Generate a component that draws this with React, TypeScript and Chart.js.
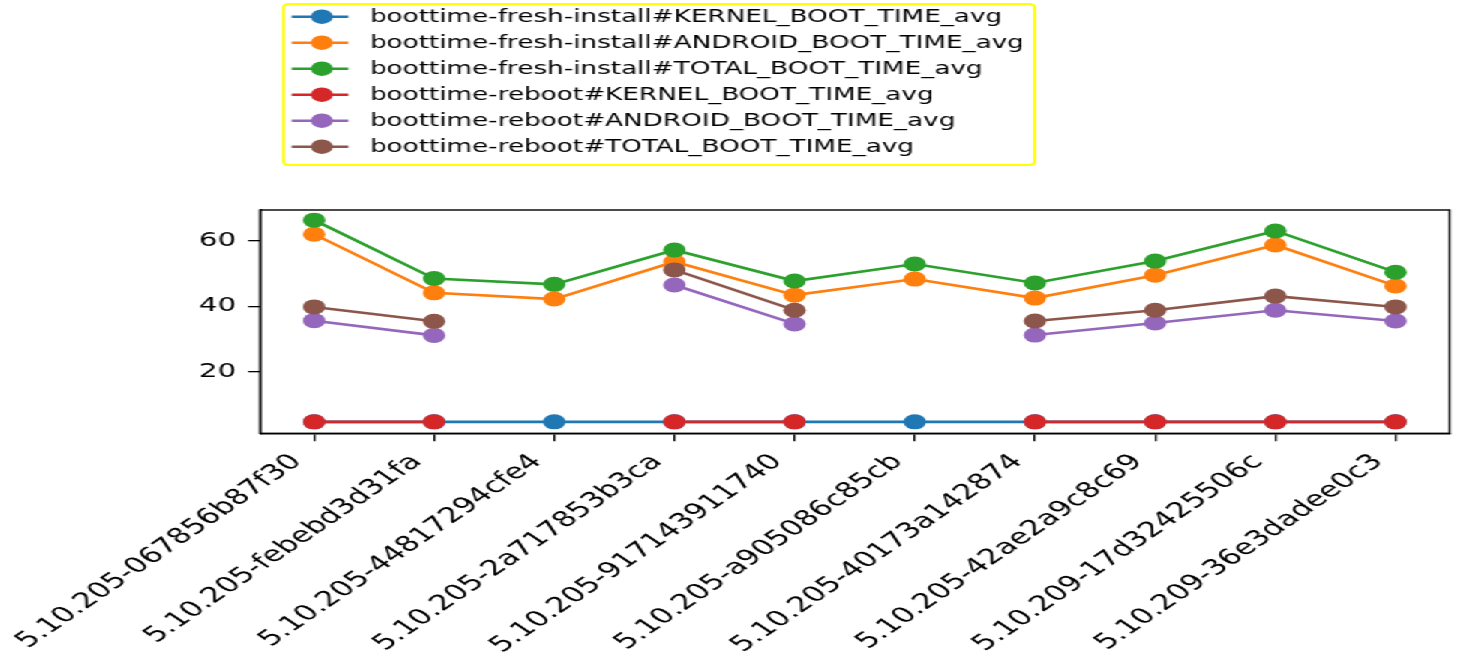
import { useEffect, useRef } from "react";
import { Chart, registerables } from "chart.js";

Chart.register(...registerables);

// ---- data ----
const categories = [
  "5.10.205-067856b87f30",
  "5.10.205-febebd3d31fa",
  "5.10.205-44817294cfe4",
  "5.10.205-2a717853b3ca",
  "5.10.205-917143911740",
  "5.10.205-a905086c85cb",
  "5.10.205-40173a142874",
  "5.10.205-42ae2a9c8c69",
  "5.10.209-17d32425506c",
  "5.10.209-36e3dadee0c3",
];

const freshKernel = [4.7, 4.7, 4.7, 4.7, 4.7, 4.7, 4.7, 4.7, 4.7, 4.7];
const freshAndroid = [62.0, 44.1, 42.2, 53.6, 43.4, 48.3, 42.5, 49.5, 58.7, 46.2];
const freshTotal = [66.3, 48.5, 46.7, 57.2, 47.7, 52.9, 47.1, 53.8, 63.0, 50.4];
const rebootKernel = [4.7, 4.7, null, 4.7, 4.7, null, 4.7, 4.7, 4.7, 4.7];
const rebootAndroid = [35.6, 31.1, null, 46.5, 34.6, null, 31.2, 34.9, 38.8, 35.5];
const rebootTotal = [39.8, 35.4, null, 51.1, 38.8, null, 35.5, 38.8, 43.1, 39.8];

const seriesLabels = [
  "boottime-fresh-install#KERNEL_BOOT_TIME_avg",
  "boottime-fresh-install#ANDROID_BOOT_TIME_avg",
  "boottime-fresh-install#TOTAL_BOOT_TIME_avg",
  "boottime-reboot#KERNEL_BOOT_TIME_avg",
  "boottime-reboot#ANDROID_BOOT_TIME_avg",
  "boottime-reboot#TOTAL_BOOT_TIME_avg",
];
const seriesValues = [freshKernel, freshAndroid, freshTotal, rebootKernel, rebootAndroid, rebootTotal];
const seriesColors = ["#1f77b4", "#ff7f0e", "#2ca02c", "#d62728", "#9467bd", "#8c564b"];

const yTicks = [20, 40, 60];

// ---- layout (canvas units; canvas is stretched horizontally) ----
const STRETCH = 1.5;
const CANVAS_W = 974;
const CANVAS_H = 656;
const FONT = "'DejaVu Sans', sans-serif";
const XLABEL_ANGLE = 45.5;

const framePlugin = {
  id: "frame",
  afterDraw(chart: any) {
    const { ctx, chartArea } = chart;
    ctx.save();
    ctx.strokeStyle = "#000";
    ctx.lineWidth = 1.4;
    ctx.strokeRect(chartArea.left, chartArea.top, chartArea.right - chartArea.left, chartArea.bottom - chartArea.top);
    ctx.restore();
  },
};

const xLabelPlugin = {
  id: "xLabels",
  afterDraw(chart: any) {
    const { ctx } = chart;
    const xs = chart.scales.x;
    ctx.save();
    ctx.font = `21.5px ${FONT}`;
    ctx.fillStyle = "#000";
    ctx.textAlign = "right";
    ctx.textBaseline = "alphabetic";
    categories.forEach((c, i) => {
      const px = xs.getPixelForValue(i);
      ctx.save();
      ctx.translate(px - 7.5, chart.chartArea.bottom + 29);
      ctx.rotate((-XLABEL_ANGLE * Math.PI) / 180);
      ctx.fillText(c, 0, 0);
      ctx.restore();
    });
    ctx.restore();
  },
};

const legendPlugin = {
  id: "mplLegend",
  afterDraw(chart: any) {
    const ctx = chart.ctx;
    ctx.save();
    const bx = 188.9, by = 4, bw = 501, bh = 161, r = 4;
    ctx.beginPath();
    ctx.moveTo(bx + r, by);
    ctx.lineTo(bx + bw - r, by);
    ctx.quadraticCurveTo(bx + bw, by, bx + bw, by + r);
    ctx.lineTo(bx + bw, by + bh - r);
    ctx.quadraticCurveTo(bx + bw, by + bh, bx + bw - r, by + bh);
    ctx.lineTo(bx + r, by + bh);
    ctx.quadraticCurveTo(bx, by + bh, bx, by + bh - r);
    ctx.lineTo(bx, by + r);
    ctx.quadraticCurveTo(bx, by, bx + r, by);
    ctx.closePath();
    ctx.fillStyle = "rgba(255,255,255,0.8)";
    ctx.fill();
    ctx.strokeStyle = "#ffff00";
    ctx.lineWidth = 2;
    ctx.stroke();

    chart.data.datasets.forEach((ds: any, i: number) => {
      const y = 16.7 + 26 * i;
      ctx.strokeStyle = ds.borderColor;
      ctx.lineWidth = 2.5;
      ctx.beginPath();
      ctx.moveTo(194.4, y);
      ctx.lineTo(232.2, y);
      ctx.stroke();
      ctx.fillStyle = ds.borderColor;
      ctx.beginPath();
      ctx.arc(214.5, y, 7.3, 0, Math.PI * 2);
      ctx.fill();
      ctx.fillStyle = "#000";
      ctx.font = `17.5px ${FONT}`;
      ctx.textBaseline = "middle";
      ctx.textAlign = "left";
      ctx.fillText(ds.label, 246.7, y + 1);
    });
    ctx.restore();
  },
};

export default function App() {
  const canvasRef = useRef<HTMLCanvasElement | null>(null);

  useEffect(() => {
    if (!canvasRef.current) return;
    const datasets = seriesValues.map((vals, i) => ({
      label: seriesLabels[i],
      data: vals.map((v, j) => ({ x: j, y: v })),
      borderColor: seriesColors[i],
      backgroundColor: seriesColors[i],
      pointBackgroundColor: seriesColors[i],
      pointBorderColor: seriesColors[i],
      borderWidth: 2.6,
      pointRadius: 7.5,
      pointBorderWidth: 0,
      pointHoverRadius: 7.5,
      spanGaps: false,
      tension: 0,
      order: seriesValues.length - i,
      clip: false as any,
    }));

    const chart = new Chart(canvasRef.current, {
      type: "line",
      data: { datasets },
      plugins: [framePlugin, legendPlugin, xLabelPlugin],
      options: {
        animation: false,
        responsive: false,
        maintainAspectRatio: false,
        layout: { padding: { top: 210, right: 6, left: 0, bottom: 0 } },
        plugins: {
          legend: { display: false },
          tooltip: { enabled: false },
          title: { display: false },
        },
        scales: {
          x: {
            type: "linear",
            min: -0.45,
            max: 9.45,
            afterBuildTicks: (scale: any) => {
              scale.ticks = categories.map((_, i) => ({ value: i }));
            },
            afterFit: (scale: any) => {
              scale.height = CANVAS_H - 433.3;
            },
            grid: { drawOnChartArea: false, drawTicks: true, tickLength: 8, color: "#000", lineWidth: 1.3 },
            border: { display: true, color: "#000", width: 1.4 },
            ticks: {
              display: false,
              autoSkip: false,
              callback: (v: any) => categories[Math.round(Number(v))] ?? "",
            },
          },
          y: {
            type: "linear",
            min: 1.2,
            max: 69.4,
            afterBuildTicks: (scale: any) => {
              scale.ticks = yTicks.map((v) => ({ value: v }));
            },
            afterFit: (scale: any) => {
              scale.width = 173.3;
            },
            grid: { drawOnChartArea: false, drawTicks: true, tickLength: 8, color: "#000", lineWidth: 1.3 },
            border: { display: true, color: "#000", width: 1.4 },
            ticks: {
              padding: 8,
              color: "#000",
              font: { family: FONT, size: 19.5 },
            },
          },
        },
      },
    });
    return () => chart.destroy();
  }, []);

  return (
    <div
      style={{
        position: "fixed",
        left: 0,
        top: 0,
        width: CANVAS_W,
        height: CANVAS_H,
        transform: `scaleX(${STRETCH})`,
        transformOrigin: "0 0",
        background: "#fff",
      }}
    >
      <canvas ref={canvasRef} width={CANVAS_W} height={CANVAS_H} />
    </div>
  );
}
